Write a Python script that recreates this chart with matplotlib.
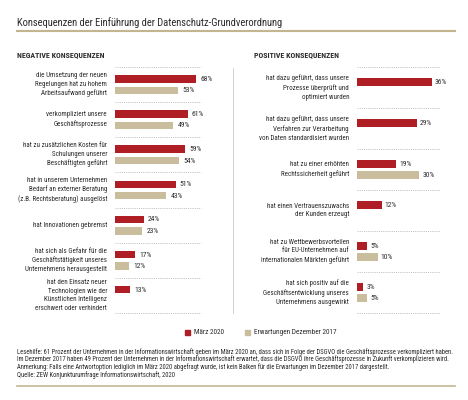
import matplotlib
matplotlib.use("Agg")
import matplotlib.pyplot as plt
from matplotlib import font_manager as fm
from matplotlib.lines import Line2D
from matplotlib.patches import Rectangle

# pick a narrow font if one is there, else condensed DejaVu
FONT = None
for cand in ['Roboto Condensed', 'Fira Sans Condensed', 'PT Sans Narrow',
             'Archivo Narrow', 'Liberation Sans Narrow', 'Open Sans Condensed']:
    try:
        fm.findfont(fm.FontProperties(family=cand), fallback_to_default=False)
        FONT = cand
        break
    except ValueError:
        pass
if FONT is None:
    plt.rcParams['font.family'] = ['DejaVu Sans']
    plt.rcParams['font.stretch'] = 'condensed'
else:
    plt.rcParams['font.family'] = [FONT, 'DejaVu Sans']

RED = '#AE1E24'
TAN = '#C9BD9D'
GOLD = '#C3B68F'
TXT = '#2b2b2b'

neg_labels = [
    "die Umsetzung der neuen\nRegelungen hat zu hohem\nArbeitsaufwand geführt",
    "verkompliziert unsere\nGeschäftsprozesse",
    "hat zu zusätzlichen Kosten für\nSchulungen unserer\nBeschäftigten geführt",
    "hat in unserem Unternehmen\nBedarf an externer Beratung\n(z.B. Rechtsberatung) ausgelöst",
    "hat Innovationen gebremst",
    "hat sich als Gefahr für die\nGeschäftstätigkeit unseres\nUnternehmens herausgestellt",
    "hat den Einsatz neuer\nTechnologien wie der\nKünstlichen Intelligenz\nerschwert oder verhindert",
]
neg_2020 = [68, 61, 59, 51, 24, 17, 13]
neg_2017 = [53, 49, 54, 43, 23, 12, None]

pos_labels = [
    "hat dazu geführt, dass unsere\nProzesse überprüft und\noptimiert wurden",
    "hat dazu geführt, dass unsere\nVerfahren zur Verarbeitung\nvon Daten standardisiert wurden",
    "hat zu einer erhöhten\nRechtssicherheit geführt",
    "hat einen Vertrauenszuwachs\nder Kunden erzeugt",
    "hat zu Wettbewerbsvorteilen\nfür EU-Unternehmen auf\ninternationalen Märkten geführt",
    "hat sich positiv auf die\nGeschäftsentwicklung unseres\nUnternehmens ausgewirkt",
]
pos_2020 = [36, 29, 19, 12, 5, 3]
pos_2017 = [None, None, 30, None, 10, 5]

footnote = [
    "Lesehilfe: 61 Prozent der Unternehmen in der Informationswirtschaft geben im März 2020 an, dass sich in Folge der DSGVO die Geschäftsprozesse verkompliziert haben.",
    "Im Dezember 2017 haben 49 Prozent der Unternehmen in der Informationswirtschaft erwartet, dass die DSGVO ihre Geschäftsprozesse in Zukunft verkomplizieren wird.",
    "Anmerkung: Falls eine Antwortoption lediglich im März 2020 abgefragt wurde, ist kein Balken für die Erwartungen im Dezember 2017 dargestellt.",
    "Quelle: ZEW Konjunkturumfrage Informationswirtschaft, 2020",
]

W, H = 468, 400
fig = plt.figure(figsize=(W / 100, H / 100), dpi=100)


def fx(x):
    return x / W


def fy(y):
    return 1 - y / H


def panel(x0, x1, xmax, labels, v20, v17, label_x, dot_frac):
    n = len(labels)
    ax = fig.add_axes([fx(x0), fy(313), fx(x1 - x0), (313 - 67) / H])
    ax.set_xlim(0, xmax)
    ax.set_ylim(n, 0)
    ax.axis('off')
    grp = 246 / n
    off = 5.7 / grp
    bh = 7.5 / grp
    for i in range(n):
        yr = i + 0.5 - off
        yt = i + 0.5 + off
        ax.barh(yr, v20[i], height=bh, color=RED)
        ax.text(v20[i] + xmax * 0.035, yr, f"{v20[i]}%", va='center', ha='left',
                fontsize=5.5, color=TXT)
        if v17[i] is not None:
            ax.barh(yt, v17[i], height=bh, color=TAN)
            ax.text(v17[i] + xmax * 0.035, yt, f"{v17[i]}%", va='center', ha='left',
                    fontsize=5.5, color=TXT)
        fig.text(fx(label_x), fy(67 + (i + 0.5) * grp), labels[i], ha='right',
                 va='center', fontsize=5.0, color=TXT, linespacing=1.32)
    for i in range(n + 1):
        ax.axhline(i, xmin=0, xmax=dot_frac, color='#bbbbbb', lw=0.7,
                   linestyle=(0, (1, 1.2)), clip_on=False)
    return ax


panel(115, 234, 100, neg_labels, neg_2020, neg_2017, 107, 0.72)
panel(357, 440, 40, pos_labels, pos_2020, pos_2017, 349, 1.0)

# title and rules
fig.text(fx(17), fy(22.5), "Konsequenzen der Einführung der Datenschutz-Grundverordnung",
         fontsize=7.6, color=TXT, va='center', ha='left')
fig.add_artist(Line2D([fx(17), fx(455)], [fy(31), fy(31)], color=GOLD, lw=1.5))
fig.add_artist(Line2D([fx(17), fx(455)], [fy(386), fy(386)], color=GOLD, lw=1.2))
fig.add_artist(Line2D([fx(233), fx(233)], [fy(68), fy(313)], color='#d0d0d0', lw=0.7))

fig.text(fx(17), fy(55), "NEGATIVE KONSEQUENZEN", fontsize=5.7, fontweight='bold',
         color=TXT, va='center', ha='left')
fig.text(fx(254), fy(55), "POSITIVE KONSEQUENZEN", fontsize=5.7, fontweight='bold',
         color=TXT, va='center', ha='left')

# legend
fig.add_artist(Rectangle((fx(185), fy(335)), fx(5), 5 / H, color=RED))
fig.text(fx(194), fy(332.5), "März 2020", fontsize=5.2, color=TXT, va='center')
fig.add_artist(Rectangle((fx(245), fy(335)), fx(5), 5 / H, color=TAN))
fig.text(fx(254), fy(332.5), "Erwartungen Dezember 2017", fontsize=5.2, color=TXT, va='center')

for k, line in enumerate(footnote):
    fig.text(fx(17), fy(352 + k * 7.6), line, fontsize=4.8, color=TXT, va='center', ha='left')

fig.savefig("out.png", dpi=100, facecolor='white')
